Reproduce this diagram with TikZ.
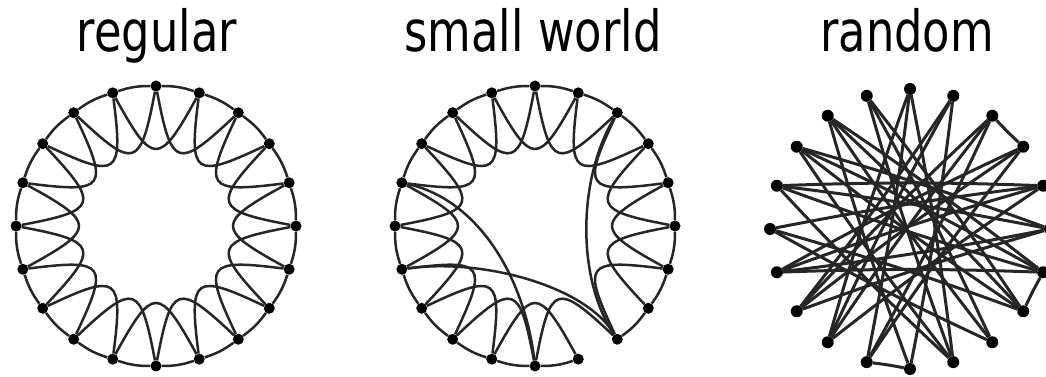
\documentclass[tikz,border=0pt]{standalone}
\usepackage{fontspec}
\setmainfont{DejaVu Sans}
\usetikzlibrary{calc}
\tikzset{
  dot/.style={circle, fill=black, inner sep=0pt, minimum size=11pt},
  ring/.style={line width=2.5pt, black!85},
  rnd/.style={line width=3pt, black!85},
  title/.style={anchor=base, inner sep=0pt, font=\fontsize{56.7pt}{60pt}\selectfont}
}
\begin{document}
\begin{tikzpicture}[x=1pt,y=1pt]
\useasboundingbox (0,0) rectangle (1046,377);
\coordinate (CA) at (156,151);
\coordinate (CB) at (535,151);
\coordinate (CC) at (910,148);
\node[title] (tA) at (157,325) {\scalebox{0.79}[1]{regular}};
\node[title] (tB) at (533,325) {\scalebox{0.79}[1]{small world}};
\node[title] (tC) at (907,325) {\scalebox{0.79}[1]{random}};
\foreach \k in {0,...,19}{
  \node[dot] (a\k) at ($(CA)+({90-18*\k}:140)$) {};
  \node[dot] (b\k) at ($(CB)+({90-18*\k}:140)$) {};
  \node[dot, minimum size=12pt] (c\k) at ($(CC)+({90-18*\k}:140)$) {};
}
\def\dd{3}
\def\rr{60}
% regular
\foreach \k in {0,...,19}{
  \pgfmathtruncatemacro\j{mod(\k+1,20)}
  \pgfmathtruncatemacro\i{mod(\k+2,20)}
  \pgfmathsetmacro\m{90-18*(\k+1)}
  \draw[ring] (a\k) to[bend left=9] (a\j);
  \draw[ring] (a\k) .. controls ($(CA)+({\m+\dd}:\rr)$) and ($(CA)+({\m-\dd}:\rr)$) .. (a\i);
}
% small world
\foreach \k in {0,...,19}{
  \pgfmathtruncatemacro\j{mod(\k+1,20)}
  \pgfmathtruncatemacro\i{mod(\k+2,20)}
  \pgfmathsetmacro\m{90-18*(\k+1)}
  \ifnum\k=8 \else
    \draw[ring] (b\k) to[bend left=9] (b\j);
  \fi
  \ifnum\k=7 \else
    \draw[ring] (b\k) .. controls ($(CB)+({\m+\dd}:\rr)$) and ($(CB)+({\m-\dd}:\rr)$) .. (b\i);
  \fi
}
\draw[ring] (b14) .. controls (480,119) and (585,92) .. (b8);
\draw[ring] (b16) .. controls (480,177) and (525,97) .. (b10);
\draw[ring] (b2) .. controls (577,197) and (577,97) .. (b8);
% random
\foreach \p/\q in {0/11,0/9,19/8,19/7,1/10,1/13,18/7,18/6,17/6,17/5,
  16/5,16/4,15/4,15/7,14/4,14/3,13/3,13/2,12/2,12/1,
  11/10,10/18,9/19,8/18,7/17,7/6,6/16,5/14,3/2,2/11,
  12/4,13/5,9/16,8/15,11/3,14/6,12/0,9/17}{
  \draw[rnd] (c\p) to[bend left=2] (c\q);
}
\end{tikzpicture}
\end{document}
